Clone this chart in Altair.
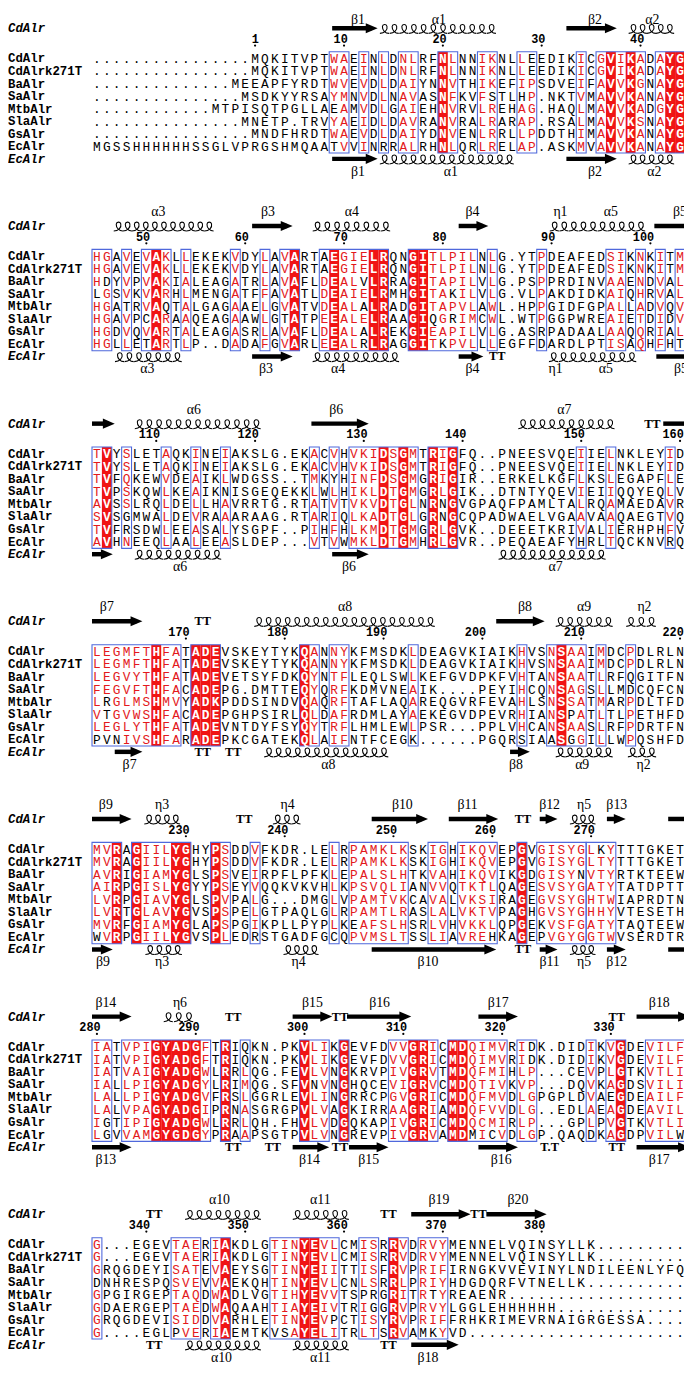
import altair as alt
import pandas as pd

# ---------------- data ----------------
seq_names = ["CdAlr", "CdAlrk271T", "BaAlr", "SaAlr", "MtbAlr", "SlaAlr", "GsAlr", "EcAlr"]

b1_seq = [
    "................MQKITVPTWAEINLDNLRFNLNNIKNLLEEDIKICGVIKADAYG",
    "................MQKITVPTWAEINLDNLRFNLNNIKNLLEEDIKICGVIKADAYG",
    "..............MEEAPFYRDTWVEVDLDAIYNNVTHIKEFIPSDVEIFAVVKGNAYG",
    "...............MSDKYYRSAYMNVDLNAVASNFKVFSTLHP.NKTVMAVVKANAYG",
    "............MTPISQTPGLLAEAMVDLGAIEHNVRVLREHAG.HAQLMAVVKADGYG",
    "...............MNETP.TRVYAEIDLDAVRANVRALRARAP.RSALMAVVKSNAYG",
    "................MNDFHRDTWAEVDLDAIYDNVENLRRLLPDDTHIMAVVKANAYG",
    "MGSSHHHHHHSSGLVPRGSHMQAATVVINRRALRHNLQRLRELAP.ASKMVAVVKANAYG",
]
b2_seq = [
    "HGAVEVAKLLEKEKVDYLAVARTAEGIELRQNGITLPILNLG.YTPDEAFEDSIKNKITM",
    "HGAVEVAKLLEKEKVDYLAVARTAEGIELRQNGITLPILNLG.YTPDEAFEDSIKNKITM",
    "HDYVPVAKIALEAGATRLAVAFLDEALVLRRAGITAPILVLG.PSPPRDINVAAENDVAL",
    "LGSVKVARHLMENGATFFAVATLDEAIELRMHGITAKILVLG.VLPAKDIDKAIQHRVAL",
    "HGATRVAQTALGAGAAELGVATVDEALALRADGITAPVLAWL.HPPGIDFGPALLADVQV",
    "HGAVPCARAAQEAGAAWLGTATPEEALELRAAGIQGRIMCWL.WTPGGPWREAIETDIDV",
    "HGDVQVARTALEAGASRLAVAFLDEALALREKGIEAPILVLG.ASRPADAALAAQQRIAL",
    "HGLLETARTLP..DADAFGVARLEEALRLRAGGITKPVLLLEGFFDARDLPTISAQHFHT",
]
b3_seq = [
    "TVYSLETAQKINEIAKSLG.EKACVHVKIDSGMTRIGFQ..PNEESVQEIIELNKLEYID",
    "TVYSLETAQKINEIAKSLG.EKACVHVKIDSGMTRIGFQ..PNEESVQEIIELNKLEYID",
    "TVFQKEWVDEAIKLWDGSS..TMKYHINFDSGMGRIGIR..ERKELKGFLKSLEGAPFLE",
    "TVPSKQWLKEAIKNISGEQEKKLWLHIKLDTGMGRLGIK..DTNTYQEVIEIIQQYEQLV",
    "AVSSLRQLDELLHAVRRTG.RTATVTVKVDTGLNRNGVGPAQFPAMLTALRQAMAEDAVR",
    "SVSGMWALDEVRAAARAAG.RTARIQLKADTGLGRNGCQPADWAELVGAAVAAQAEGTVQ",
    "TVFRSDWLEEASALYSGPF..PIHFHLKMDTGMGRLGVK..DEEETKRIVALIERHPHFV",
    "AVHNEEQLAALEEASLDEP...VTVWMKLDTGMHRLGVR..PEQAEAFYHRLTQCKNVRQ",
]
b4_seq = [
    "LEGMFTHFATADEVSKEYTYKQANNYKFMSDKLDEAGVKIAIKHVSNSAAIMDCPDLRLN",
    "LEGMFTHFATADEVSKEYTYKQANNYKFMSDKLDEAGVKIAIKHVSNSAAIMDCPDLRLN",
    "LEGVYTHFATADEVETSYFDKQYNTFLEQLSWLKEFGVDPKFVHTANSAATLRFQGITFN",
    "FEGVFTHFACADEPG.DMTTEQYQRFKDMVNEAIK....PEYIHCQNSAGSLLMDCQFCN",
    "LRGLMSHMVYADKPDDSINDVQAQRFTAFLAQAREQGVRFEVAHLSNSSATMARPDLTFD",
    "VTGVWSHFACADEPGHPSIRLQLDAFRDMLAYAEKEGVDPEVRHIANSPATLTLPETHFD",
    "LEGLYTHFATADEVNTDYFSYQYTRFLHMLEWLPSR...PPLVHCANSAASLRFPDRTFN",
    "PVNIVSHFARADEPKCGATEKQLAIFNTFCEGK......PGQRSIAASGGILLWPQSHFD",
]
b5_seq = [
    "MVRAGIILYGHYPSDDVFKDR.LELRPAMKLKSKIGHIKQVEPGVGISYGLKYTTTGKET",
    "MVRAGIILYGHYPSDDVFKDR.LELRPAMKLKSKIGHIKQVEPGVGISYGLTYTTTGKET",
    "AVRIGIAMYGLSPSVEIRPFLPFKLEPALSLHTKVAHIKQVIKGDGISYNVTYRTKTEEW",
    "AIRPGISLYGYYPSEYVQQKVKVHLKPSVQLIANVVQTKTLQAGESVSYGATYTATDPTT",
    "LVRPGIAVYGLSPVPALG...DMGLVPAMTVKCAVALVKSIRAGEGVSYGHTWIAPRDTN",
    "LVRTGLAVYGVSPSPELGTPAQLGLRPAMTLRASLALVKTVPAGHGVSYGHHYVTESETH",
    "MVRFGIAMYGLAPSPGIKPLLPYPLKEAFSLHSRLVHVKKLQPGEKVSFGATYTAQTEEW",
    "WVRPGIILYGVSPLEDRSTGADFGCQPVMSLTSSLIAVREHKAGEPVGYGGTWVSERDTR",
]
b6_seq = [
    "IATVPIGYADGFTRIQKN.PKVLIKGEVFDVVGRICMDQIMVRIDK.DIDIKVGDEVILF",
    "IATVPIGYADGFTRIQKN.PKVLIKGEVFDVVGRICMDQIMVRIDK.DIDIKVGDEVILF",
    "IATVAIGYADGWLRRLQG.FEVLVNGKRVPIVGRVTMDQFMIHLP...CEVPLGTKVTLI",
    "IALLPIGYADGYLRIMQG.SFVNVNGHQCEVIGRVCMDQTIVKVP...DQVKAGDSVILI",
    "LALLPIGYADGVFRSLGGRLEVLINGRRCPGVGRICMDQFMVDLGPGPLDVAEGDEAILF",
    "LALVPAGYADGIPRNASGRGPVLVAGKIRRAAGRIAMDQFVVDLG..EDLAEAGDEAVIL",
    "IGTIPIGYADGWLRRLQH.FHVLVDGQKAPIVGRICMDQCMIRLP...GPLPVGTKVTLI",
    "LGVVAMGYGDGYPRAAPSGTPVLVNGREVPIVGRVAMDMICVDLGP.QAQDKAGDPVILW",
]
b7_seq = [
    "G...EGEVTAERIAKDLGTINYEVLCMISRRVDRVYMENNELVQINSYLLK.........",
    "G...EGEVTAERIAKDLGTINYEVLCMISRRVDRVYMENNELVQINSYLLK.........",
    "GRQGDEYISATEVAEYSGTINYEIITTISFRVPRIFIRNGKVVEVINYLNDILEENLYFQ",
    "DNHRESPQSVEVVAEKQHTINYEVLCNLSRRLPRIYHDGDQRFVTNELLK..........",
    "GPGIRGEPTAQDWADLVGTIHYEVVTSPRGRITRTYREAENR..................",
    "GDAERGEPTAEDWAQAAHTIAYEIVTRIGGRVPRVYLGGLEHHHHHH.............",
    "GRQGDEVISIDDVARHLETINYEVPCTISYRVPRIFFRHKRIMEVRNAIGRGESSA....",
    "G....EGLPVERIAEMTKVSAYELITRLTSRVAMKYVD......................",
]

# strictly conserved columns (red background)
b1_fill = [35, 52, 54, 58, 59]
b2_fill = [6, 20, 24, 28, 29, 32, 33]
b3_fill = [1, 29, 31, 34, 36]
b4_fill = [6, 10, 11, 12, 21, 47]
b5_fill = [2, 4, 8, 9, 12, 43]
b6_fill = [6, 7, 8, 9, 10, 13, 21, 25, 32, 33, 36, 37, 53]
b7_fill = [13, 21, 22, 30]

# blue frames (first column, last column)
b1_box = [(24, 25), (27, 27), (29, 29), (31, 32), (35, 36), (39, 40), (43, 44), (49, 49), (51, 55), (57, 59)]
b2_box = [(0, 1), (3, 3), (5, 7), (9, 9), (14, 14), (17, 17), (19, 20), (23, 29), (32, 38), (40, 40),
          (45, 45), (52, 53), (55, 55), (57, 57), (59, 59)]
b3_box = [(0, 1), (3, 3), (7, 7), (10, 10), (13, 13), (22, 22), (24, 24), (26, 32), (34, 36), (49, 49),
          (52, 52), (58, 58)]
b4_box = [(0, 8), (10, 12), (21, 22), (24, 25), (32, 32), (43, 43), (46, 49), (51, 51), (54, 54)]
b5_box = [(0, 2), (4, 9), (12, 13), (16, 16), (24, 24), (26, 31), (34, 35), (37, 40), (43, 43), (45, 49), (50, 52)]
b6_box = [(0, 1), (3, 11), (13, 13), (15, 15), (21, 23), (25, 25), (30, 34), (36, 41), (43, 44), (50, 50),
          (52, 53), (56, 59)]
b7_box = [(0, 0), (8, 10), (12, 13), (18, 24), (27, 28), (30, 31), (33, 35)]

# residues inside frames that stay black (row, column)
b1_black = [(4, 24), (7, 24), (7, 29), (0, 44), (1, 44), (3, 43), (3, 40)]
b2_black = [(3, 0), (2, 1), (4, 3), (5, 5), (7, 5), (4, 7), (0, 23), (1, 23), (2, 27), (4, 27), (6, 27),
            (7, 27), (5, 19), (5, 34), (5, 36), (7, 35), (3, 36), (6, 45), (7, 45), (7, 59)]
b3_black = [(3, 13), (7, 49), (7, 58), (6, 3), (5, 3), (4, 35), (5, 35), (2, 24)]
b4_black = [(4, 1), (5, 1), (7, 1), (7, 0), (7, 2), (7, 32), (7, 43), (7, 46), (5, 48), (7, 48), (2, 54), (3, 54)]
b5_black = [(7, 0), (7, 16), (7, 24), (6, 26), (7, 45), (6, 45), (2, 49), (0, 51), (7, 40)]
b6_black = [(0, 15), (1, 15), (7, 38), (7, 50), (7, 59), (6, 1), (7, 1), (3, 22), (0, 44), (1, 44), (4, 52), (7, 40)]
b7_black = [(3, 0), (6, 24), (7, 33), (7, 8), (7, 18), (7, 19), (4, 27), (4, 28), (5, 28), (4, 34), (7, 34)]

# residue numbering of CdAlr (value, column)
b1_num = [1, 10, 20, 30, 40]
b1_numcol = [16, 25, 35, 45, 55]
b2_num = [50, 60, 70, 80, 90, 100]
b2_numcol = [5, 15, 25, 35, 46, 56]
b3_num = [110, 120, 130, 140, 150, 160]
b3_numcol = [6, 16, 27, 37, 49, 59]
b4_num = [170, 180, 190, 200, 210, 220]
b4_numcol = [9, 19, 29, 39, 49, 59]
b5_num = [230, 240, 250, 260, 270]
b5_numcol = [9, 19, 30, 40, 50]
b6_num = [280, 290, 300, 310, 320, 330]
b6_numcol = [0, 10, 21, 31, 41, 52]
b7_num = [340, 350, 360, 370, 380]
b7_numcol = [5, 15, 25, 35, 45]

# secondary structure: (block, track, kind, start col, end col, text)
ss_elements = [
    (0, "top", "arrow", 23.8, 28.4, ""), (0, "top", "helix", 28.6, 40.4, ""),
    (0, "top", "arrow", 47.5, 52.6, ""), (0, "top", "helix", 53.8, 58.4, ""),
    (0, "bot", "arrow", 23.8, 28.4, ""), (0, "bot", "helix", 28.6, 42.2, ""),
    (0, "bot", "arrow", 47.5, 52.6, ""), (0, "bot", "helix", 53.8, 58.4, ""),
    (1, "top", "helix", 1.7, 11.8, ""), (1, "top", "arrow", 15.7, 19.8, ""),
    (1, "top", "helix", 21.8, 29.7, ""), (1, "top", "arrow", 36.6, 39.6, ""),
    (1, "top", "helix", 45.8, 55.5, ""), (1, "top", "bar", 56.4, 60.0, ""),
    (1, "bot", "helix", 1.8, 8.6, ""), (1, "bot", "arrow", 15.7, 19.8, ""),
    (1, "bot", "helix", 21.8, 30.6, ""), (1, "bot", "arrow", 36.6, 39.1, ""),
    (1, "bot", "turn", 40.5, 40.5, "TT"),
    (1, "bot", "helix", 45.7, 54.6, ""), (1, "bot", "bar", 56.6, 60.0, ""),
    (2, "top", "arrow", -0.5, 1.8, ""), (2, "top", "helix", 3.8, 16.6, ""),
    (2, "top", "arrow", 21.7, 27.5, ""), (2, "top", "helix", 42.6, 52.4, ""),
    (2, "top", "turn", 56.2, 56.2, "TT"), (2, "top", "bar", 57.3, 60.0, ""),
    (2, "bot", "arrow", -0.5, 1.6, ""), (2, "bot", "helix", 3.8, 12.6, ""),
    (2, "bot", "arrow", 23.8, 27.5, ""), (2, "bot", "helix", 40.6, 51.5, ""),
    (3, "top", "arrow", -0.5, 4.6, ""), (3, "top", "turn", 10.7, 10.7, "TT"),
    (3, "top", "helix", 15.9, 34.2, ""), (3, "top", "arrow", 40.4, 45.3, ""),
    (3, "top", "helix", 46.4, 52.2, ""), (3, "top", "helix", 53.5, 56.6, ""),
    (3, "bot", "arrow", 1.8, 4.6, ""), (3, "bot", "turn", 10.7, 10.7, "TT"),
    (3, "bot", "turn", 13.8, 13.8, "TT"), (3, "bot", "helix", 16.9, 29.5, ""),
    (3, "bot", "arrow", 41.8, 43.8, ""), (3, "bot", "helix", 46.4, 52.2, ""),
    (3, "bot", "helix", 53.7, 56.6, ""),
    (4, "top", "arrow", -0.5, 3.5, ""), (4, "top", "helix", 4.8, 8.4, ""),
    (4, "top", "turn", 14.9, 14.9, "TT"), (4, "top", "helix", 17.8, 20.6, ""),
    (4, "top", "arrow", 27.8, 33.5, ""), (4, "top", "arrow", 35.6, 40.6, ""),
    (4, "top", "turn", 43.1, 43.1, "TT"), (4, "top", "arrow", 44.8, 46.6, ""),
    (4, "top", "helix", 47.9, 50.4, ""), (4, "top", "arrow", 51.6, 53.5, ""),
    (4, "top", "bar", 57.8, 60.0, ""),
    (4, "bot", "arrow", -0.5, 1.6, ""), (4, "bot", "helix", 4.9, 8.6, ""),
    (4, "bot", "helix", 18.9, 22.4, ""), (4, "bot", "arrow", 27.8, 40.4, ""),
    (4, "bot", "turn", 43.1, 43.1, "TT"), (4, "bot", "arrow", 44.8, 46.6, ""),
    (4, "bot", "helix", 47.9, 50.4, ""), (4, "bot", "arrow", 51.6, 53.5, ""),
    (4, "bot", "bar", 57.8, 60.0, ""),
    (5, "top", "arrow", -0.5, 3.5, ""), (5, "top", "helix", 6.7, 9.8, ""),
    (5, "top", "turn", 13.8, 13.8, "TT"), (5, "top", "arrow", 19.8, 23.8, ""),
    (5, "top", "turn", 24.6, 24.6, "TT"), (5, "top", "arrow", 25.3, 31.8, ""),
    (5, "top", "arrow", 38.6, 42.6, ""), (5, "top", "turn", 52.6, 52.6, "TT"),
    (5, "top", "arrow", 54.6, 60.0, ""),
    (5, "bot", "arrow", -0.5, 3.5, ""), (5, "bot", "turn", 13.8, 13.8, "TT"),
    (5, "bot", "turn", 17.8, 17.8, "TT"), (5, "bot", "arrow", 19.8, 23.5, ""),
    (5, "bot", "turn", 24.6, 24.6, "TT"), (5, "bot", "arrow", 25.5, 29.5, ""),
    (5, "bot", "arrow", 38.6, 42.6, ""), (5, "bot", "turn", 45.8, 45.8, "T.T"),
    (5, "bot", "turn", 52.6, 52.6, "TT"), (5, "bot", "arrow", 54.6, 60.0, ""),
    (6, "top", "turn", 5.8, 5.8, "TT"), (6, "top", "helix", 8.9, 16.6, ""),
    (6, "top", "helix", 19.8, 25.5, ""), (6, "top", "turn", 29.5, 29.5, "TT"),
    (6, "top", "arrow", 31.8, 37.8, ""), (6, "top", "turn", 38.6, 38.6, "TT"),
    (6, "top", "arrow", 39.4, 45.5, ""),
    (6, "bot", "turn", 5.8, 5.8, "TT"), (6, "bot", "helix", 8.9, 16.6, ""),
    (6, "bot", "helix", 19.8, 25.5, ""), (6, "bot", "turn", 29.5, 29.5, "TT"),
    (6, "bot", "arrow", 31.8, 36.6, ""),
]

# secondary structure names: (block, track, text, centre col)
ss_labels = [
    (0, "top", "β1", 26.4), (0, "top", "α1", 34.6), (0, "top", "β2", 50.4), (0, "top", "α2", 56.2),
    (0, "bot", "β1", 26.4), (0, "bot", "α1", 35.8), (0, "bot", "β2", 50.4), (0, "bot", "α2", 56.4),
    (1, "top", "α3", 6.2), (1, "top", "β3", 17.3), (1, "top", "α4", 25.8), (1, "top", "β4", 38.0),
    (1, "top", "η1", 46.9), (1, "top", "α5", 52.0), (1, "top", "β5", 59.0),
    (1, "bot", "α3", 5.1), (1, "bot", "β3", 17.1), (1, "bot", "α4", 24.4), (1, "bot", "β4", 38.0),
    (1, "bot", "η1", 46.4), (1, "bot", "α5", 51.5), (1, "bot", "β5", 59.1),
    (2, "top", "α6", 9.8), (2, "top", "β6", 24.2), (2, "top", "α7", 47.3),
    (2, "bot", "α6", 8.4), (2, "bot", "β6", 25.5), (2, "bot", "α7", 46.4),
    (3, "top", "β7", 1.0), (3, "top", "α8", 25.1), (3, "top", "β8", 43.3), (3, "top", "α9", 49.3),
    (3, "top", "η2", 55.4),
    (3, "bot", "β7", 3.3), (3, "bot", "α8", 23.4), (3, "bot", "β8", 42.4), (3, "bot", "α9", 49.1),
    (3, "bot", "η2", 55.3),
    (4, "top", "β9", 0.9), (4, "top", "η3", 6.6), (4, "top", "η4", 19.3), (4, "top", "β10", 30.9),
    (4, "top", "β11", 37.5), (4, "top", "β12", 45.8), (4, "top", "η5", 49.3), (4, "top", "β13", 52.6),
    (4, "bot", "β9", 0.6), (4, "bot", "η3", 6.6), (4, "bot", "η4", 20.4), (4, "bot", "β10", 33.5),
    (4, "bot", "β11", 45.8), (4, "bot", "η5", 49.3), (4, "bot", "β12", 52.6),
    (5, "top", "β14", 0.9), (5, "top", "η6", 8.4), (5, "top", "β15", 21.8), (5, "top", "β16", 28.6),
    (5, "top", "β17", 40.6), (5, "top", "β18", 56.9),
    (5, "bot", "β13", 0.9), (5, "bot", "β14", 21.5), (5, "bot", "β15", 27.5), (5, "bot", "β16", 40.9),
    (5, "bot", "β17", 56.9),
    (6, "top", "α10", 12.4), (6, "top", "α11", 22.6), (6, "top", "β19", 34.6), (6, "top", "β20", 42.6),
    (6, "bot", "α10", 12.6), (6, "bot", "α11", 22.6), (6, "bot", "β18", 33.5),
]

blocks = [b1_seq, b2_seq, b3_seq, b4_seq, b5_seq, b6_seq, b7_seq]
fills = [b1_fill, b2_fill, b3_fill, b4_fill, b5_fill, b6_fill, b7_fill]
boxes = [b1_box, b2_box, b3_box, b4_box, b5_box, b6_box, b7_box]
blacks = [b1_black, b2_black, b3_black, b4_black, b5_black, b6_black, b7_black]
nums = [b1_num, b2_num, b3_num, b4_num, b5_num, b6_num, b7_num]
numcols = [b1_numcol, b2_numcol, b3_numcol, b4_numcol, b5_numcol, b6_numcol, b7_numcol]

# ---------------- layout ----------------
W, H = 684, 1362
XD = [-9, 59.4]
BASE0, BLOCK_H, ROW = 43.0, 200.0, 12.7
RED, TXT_RED, BLUE = "#f01414", "#e3191c", "#4f68dc"
MONO = "Liberation Mono"
SERIF = "Liberation Serif"


def base(b):
    return BASE0 + BLOCK_H * b


def y_glyph(b, track):
    return base(b) - 30.5 if track == "top" else base(b) + 8 * ROW


def y_label(b, track):
    return max(base(b) - 44.5, 4.5) if track == "top" else base(b) + 114.5


res, fill_r, box_r, lab, numt, dots = [], [], [], [], [], []
for b, seqs in enumerate(blocks):
    fset = set(fills[b])
    bset = set(c for (a, z) in boxes[b] for c in range(a, z + 1))
    kset = set(blacks[b])
    top, bottom = base(b) - 6.8, base(b) + 7 * ROW + 6.8
    for i, s in enumerate(seqs):
        assert len(s) == 60, (b, i, len(s))
        for c, ch in enumerate(s):
            if c in fset:
                kind, col = "fill", "white"
            elif c in bset and ch != "." and (i, c) not in kset:
                kind, col = "sim", TXT_RED
            else:
                kind, col = "plain", "black"
            res.append(dict(x=c, y=base(b) + ROW * i + 0.5, ch=ch, kind=kind, col=col))
        lab.append(dict(x=-9, y=base(b) + ROW * i, t=seq_names[i], st="normal"))
    lab.append(dict(x=-9, y=base(b) - 30.5, t="CdAlr", st="italic"))
    lab.append(dict(x=-9, y=base(b) + 8 * ROW, t="EcAlr", st="italic"))
    for c in fills[b]:
        fill_r.append(dict(x=c - 0.5, x2=c + 0.5, y=top, y2=bottom))
    for (a, z) in boxes[b]:
        box_r.append(dict(x=a - 0.5, x2=z + 0.5, y=top, y2=bottom))
    for v, c in zip(nums[b], numcols[b]):
        numt.append(dict(x=c + 0.38, y=base(b) - 19.5, t=str(v)))
        dots.append(dict(x=c, y=base(b) - 13.0))

shafts, heads, loops, turns, sslab = [], [], [], [], []
for (b, tr, kind, c0, c1, t) in ss_elements:
    y = y_glyph(b, tr)
    if kind == "arrow":
        shafts.append(dict(x=c0, x2=c1 - 0.6, y=y))
        heads.append(dict(x=c1 - 0.6, y=y))
    elif kind == "bar":
        shafts.append(dict(x=c0, x2=c1, y=y))
    elif kind == "helix":
        n = max(2, round((c1 - c0) / 0.95))
        step = (c1 - c0) / n
        for k in range(n):
            loops.append(dict(x=c0 + (k + 0.5) * step, y=y + 0.5))
    elif kind == "turn":
        turns.append(dict(x=c0, y=y, t=t))
for (b, tr, t, c) in ss_labels:
    sslab.append(dict(x=c, y=y_label(b, tr), t=t))

res = pd.DataFrame(res)
X = lambda f="x": alt.X(f"{f}:Q", scale=alt.Scale(domain=XD, nice=False, zero=False), axis=None)
Y = lambda f="y": alt.Y(f"{f}:Q", scale=alt.Scale(domain=[0, H], nice=False, zero=False, reverse=True), axis=None)

fill_layer = alt.Chart(pd.DataFrame(fill_r)).mark_rect(color=RED).encode(
    x=X(), x2="x2:Q", y=Y(), y2="y2:Q")
box_layer = alt.Chart(pd.DataFrame(box_r)).mark_rect(fillOpacity=0, stroke=BLUE, strokeWidth=1.1).encode(
    x=X(), x2="x2:Q", y=Y(), y2="y2:Q")
txt_layer = alt.Chart(res[res.kind != "fill"]).mark_text(font=MONO, fontSize=13).encode(
    x=X(), y=Y(), text="ch:N", color=alt.Color("col:N", scale=None))
txt_fill = alt.Chart(res[res.kind == "fill"]).mark_text(font=MONO, fontSize=13, fontWeight="bold",
                                                        color="white").encode(x=X(), y=Y(), text="ch:N")
labdf = pd.DataFrame(lab)
lab_n = alt.Chart(labdf[labdf.st == "normal"]).mark_text(font=MONO, fontSize=12.5, fontWeight="bold",
                                                         align="left", color="black").encode(
    x=X(), y=Y(), text="t:N")
lab_i = alt.Chart(labdf[labdf.st == "italic"]).mark_text(font=MONO, fontSize=12.5, fontWeight="bold",
                                                         fontStyle="italic", align="left",
                                                         color="black").encode(x=X(), y=Y(), text="t:N")
num_layer = alt.Chart(pd.DataFrame(numt)).mark_text(font=MONO, fontSize=12, fontWeight="bold",
                                                    align="right", color="black").encode(
    x=X(), y=Y(), text="t:N")
dot_layer = alt.Chart(pd.DataFrame(dots)).mark_point(shape="circle", filled=True, size=5, opacity=1,
                                                     color="black").encode(x=X(), y=Y())
shaft_layer = alt.Chart(pd.DataFrame(shafts)).mark_rule(strokeWidth=4.5, color="black").encode(
    x=X(), x2="x2:Q", y=Y())
head_layer = alt.Chart(pd.DataFrame(heads)).mark_point(shape="M-1,-0.85L1,0L-1,0.85Z", filled=True,
                                                       size=144, opacity=1, color="black").encode(
    x=X(), y=Y())
LOOP = "M-1,1C0,1 0.75,0.2 0.55,-0.55C0.4,-1.1 -0.4,-1.1 -0.45,-0.5C-0.5,0.3 0.2,1 1,1"
loop_layer = alt.Chart(pd.DataFrame(loops)).mark_point(shape=LOOP, filled=False, size=85, opacity=1,
                                                       strokeWidth=1.1, color="black").encode(
    x=X(), y=Y())
turn_layer = alt.Chart(pd.DataFrame(turns)).mark_text(font=SERIF, fontSize=12.5, fontWeight="bold",
                                                      color="black").encode(x=X(), y=Y(), text="t:N")
sslab_layer = alt.Chart(pd.DataFrame(sslab)).mark_text(font=SERIF, fontSize=14, color="black").encode(
    x=X(), y=Y(), text="t:N")

chart = alt.layer(
    fill_layer, box_layer, txt_layer, txt_fill, lab_n, lab_i, num_layer, dot_layer,
    shaft_layer, head_layer, loop_layer, turn_layer, sslab_layer,
).properties(
    width=W, height=H, autosize=alt.AutoSizeParams(type="none"), padding=0
).configure_view(stroke=None)

chart.save("out.html", embed_options={"renderer": "svg", "actions": False})
